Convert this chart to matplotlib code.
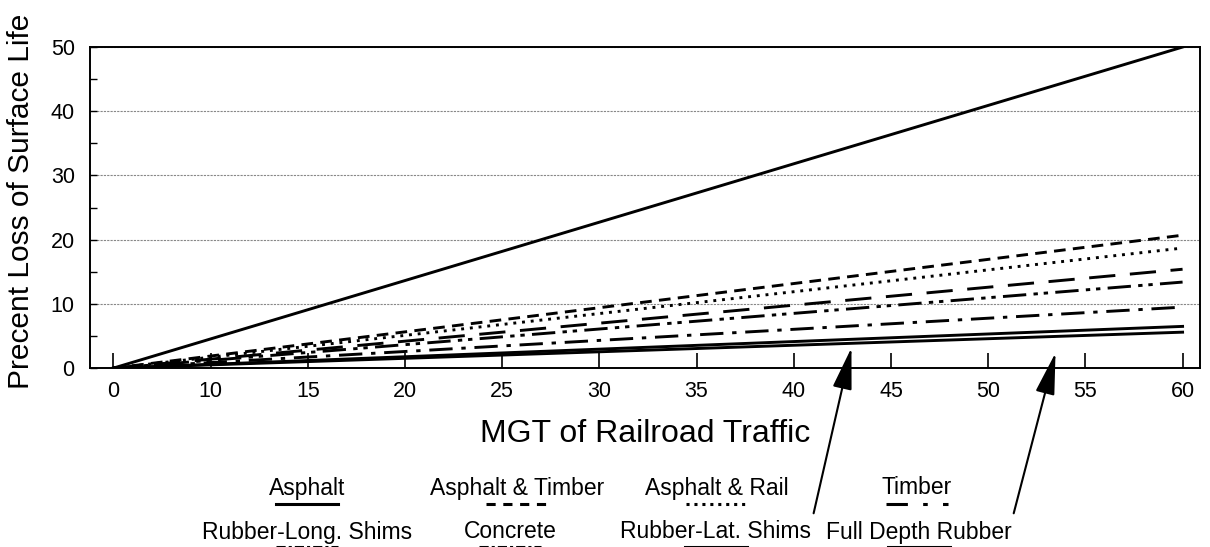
import matplotlib
matplotlib.use("Agg")
import matplotlib.pyplot as plt
from matplotlib.lines import Line2D

plt.rcParams['font.family'] = ['Liberation Sans', 'DejaVu Sans']

# x positions of the tick marks and the labels printed under them
tick_pos = [5, 10, 15, 20, 25, 30, 35, 40, 45, 50, 55, 60]
tick_lbl = ['0', '10', '15', '20', '25', '30', '35', '40', '45', '50', '55', '60']

# every line runs straight from the first tick to 60
mgt = [5, 60]
names = ['Asphalt', 'Asphalt & Timber', 'Asphalt & Rail', 'Timber',
         'Rubber-Long. Shims', 'Concrete', 'Rubber-Lat. Shims', 'Full Depth Rubber']
end_loss = [50.0, 20.7, 18.7, 15.4, 13.4, 9.5, 6.5, 5.6]
styles = ['-', (0, (4, 2.5)), (0, (1, 2)), (0, (9, 5)),
          (0, (8, 2.5, 1.5, 2, 1.5, 2.5)), (0, (8, 3, 1.5, 3)), '-', '-']

fig = plt.figure(figsize=(12.1, 5.47), dpi=100)
ax = fig.add_axes([0.0744, 0.327, 0.9174, 0.587])

for n, e, s in zip(names, end_loss, styles):
    ax.plot(mgt, [0, e], color='black', linestyle=s, linewidth=2.1)

ax.set_xlim(3.8, 60.9)
ax.set_ylim(0, 50)
ax.set_xticks(tick_pos)
ax.set_xticklabels(tick_lbl)
ax.set_yticks([0, 10, 20, 30, 40, 50])
ax.set_yticks([5, 15, 25, 35, 45], minor=True)
ax.tick_params(axis='both', which='major', labelsize=15.5)
ax.tick_params(axis='x', direction='in', length=11, width=1.2, pad=9)
ax.tick_params(axis='y', direction='in', length=5, width=1, pad=11)
ax.tick_params(axis='y', which='minor', direction='in', length=5, width=1)
ax.grid(axis='y', color='#888888', linestyle=(0, (2, 1)), linewidth=0.8)
for sp in ax.spines.values():
    sp.set_linewidth(1.4)

ax.set_xlabel('MGT of Railroad Traffic', fontsize=23)
ax.xaxis.set_label_coords(0.5, -0.158)
ax.set_ylabel('Precent Loss of Surface Life', fontsize=21.5)
ax.yaxis.set_label_coords(-0.05, 0.52)

# legend: label text with line sample underneath, 2 rows x 4 columns
col_x = [[307, 517, 717, 917], [307, 510, 716, 919]]
row_y = [488, 532]
sample_y = [504, 547]
leg_styles = ['-', (0, (3, 2.5)), (0, (1, 1.6)), (0, (7, 5, 1.5, 5)),
              (0, (3, 1, 1, 1)), (0, (3, 1, 1, 1)), '-', '-']
for i, n in enumerate(names):
    r = i // 4
    cx = col_x[r][i % 4] / 1210
    fig.text(cx, 1 - row_y[r] / 547, n, ha='center', va='center', fontsize=16.5)
    sy = 1 - sample_y[r] / 547
    fig.add_artist(Line2D([cx - 0.026, cx + 0.026], [sy, sy], color='black',
                          linestyle=leg_styles[i], linewidth=2.2,
                          transform=fig.transFigure))

# arrows from the legend to the lower lines
arrow_tail = [(813, 516), (1013, 516)]
arrow_head = [(43.0, 3.6), (53.5, 2.8)]
for (tx, ty), head in zip(arrow_tail, arrow_head):
    ax.annotate('', xy=head, xycoords='data',
                xytext=(tx / 1210, 1 - ty / 547), textcoords='figure fraction',
                arrowprops=dict(arrowstyle='-|>,head_length=2.6,head_width=0.6',
                                color='black', lw=1.5),
                annotation_clip=False)

fig.savefig('out.png', dpi=100)
